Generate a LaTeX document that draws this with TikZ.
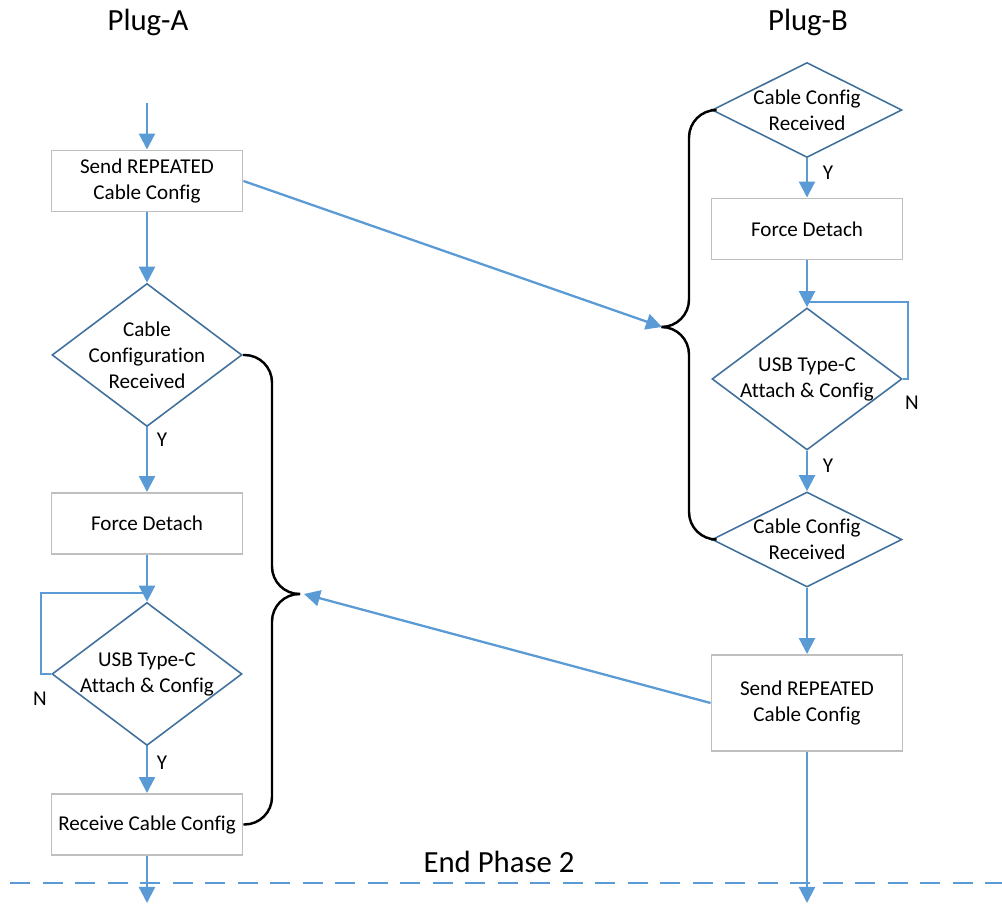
\documentclass[tikz,border=0pt]{standalone}
\usepackage{fontspec}
\setmainfont{Carlito}[Ligatures=NoCommon]
\usetikzlibrary{arrows.meta,shapes.geometric}
\definecolor{flowblue}{HTML}{5B9BD5}
\definecolor{edgeblue}{HTML}{41719C}
\definecolor{boxgray}{HTML}{BFBFBF}

\begin{document}
\begin{tikzpicture}[font=\fontsize{12}{14.8}\selectfont,>={Triangle[length=.32cm,width=.32cm]},
  proc/.style={draw=boxgray,line width=1.1pt,minimum width=3.82cm,minimum height=1.22cm,inner sep=0pt,align=center},
  dec/.style={diamond,draw=edgeblue,line width=.9pt,minimum width=3.8cm,inner sep=0pt},
  flow/.style={->,flowblue,line width=1.3pt},
  brace/.style={black,line width=1.4pt,rounded corners=.55cm},
  big/.style={font=\fontsize{17.5}{21}\selectfont}]
  \useasboundingbox (0,0) rectangle (20.04,18.08);
  \node[big] (plugA) at (2.96,17.64) {Plug-A};
  \node[big] (plugB) at (16.16,17.64) {Plug-B};

  % Plug-A column
  \coordinate (inA) at (2.94,16.02);
  \node[proc] (sendA) at (2.94,14.46) {Send REPEATED\\Cable Config};
  \node[dec,minimum height=2.86cm,label={[align=center]center:Cable\\Configuration\\Received}] (cfgA) at (2.94,10.98) {};
  \node[proc] (forceA) at (2.94,7.61) {Force Detach};
  \node[dec,minimum height=2.86cm,label={[align=center]center:USB Type-C\\Attach \& Config}] (attA) at (2.94,4.60) {};
  \node[proc] (recvA) at (2.94,1.59) {Receive Cable Config};
  \coordinate (outA) at (2.94,0.02);

  \draw[flow] (inA) -- (sendA);
  \draw[flow] (sendA) -- (cfgA.north);
  \draw[flow] (cfgA.south) -- (forceA);
  \draw[flow] (forceA) -- (attA.north);
  \draw[flowblue,line width=1.3pt] (attA.west) -- ++(-.2,0) |- (2.94,6.22);
  \draw[flow] (attA.south) -- (recvA);
  \draw[flow] (recvA) -- (outA);
  \node (yA1) at (3.24,9.28) {Y};
  \node (nA) at (0.80,4.10) {N};
  \node (yA2) at (3.24,2.82) {Y};

  % Plug-B column
  \node[dec,minimum height=1.9cm,label={[align=center]center:Cable Config\\Received}] (cfgB) at (16.14,15.88) {};
  \node[proc] (forceB) at (16.14,13.50) {Force Detach};
  \node[dec,minimum height=2.84cm,label={[align=center]center:USB Type-C\\Attach \& Config}] (attB) at (16.14,10.50) {};
  \node[dec,minimum height=1.9cm,label={[align=center]center:Cable Config\\Received}] (cfgB2) at (16.14,7.29) {};
  \node[proc,minimum height=1.92cm] (sendB) at (16.14,4.02) {Send REPEATED\\Cable Config};
  \coordinate (outB) at (16.14,0.02);

  \draw[flow] (cfgB.south) -- (forceB);
  \draw[flow] (forceB) -- (attB.north);
  \draw[flowblue,line width=1.3pt] (attB.east) -- ++(.1,0) |- (16.14,12.04);
  \draw[flow] (attB.south) -- (cfgB2.north);
  \draw[flow] (cfgB2.south) -- (sendB);
  \draw[flow] (sendB) -- (outB);
  \node (yB1) at (16.56,14.62) {Y};
  \node (nB) at (18.24,10.02) {N};
  \node (yB2) at (16.56,8.76) {Y};

  % braces and the messages between the plugs
  \coordinate (tipA) at (6.00,6.20);
  \coordinate (tipB) at (13.34,11.54);
  \draw[brace] (cfgA.east) -| (5.44,6.20) -- (tipA);
  \draw[brace] (tipA) -- (5.44,6.20) |- (recvA.east);
  \draw[brace] (cfgB.west) -| (13.78,11.54) -- (tipB);
  \draw[brace] (tipB) -- (13.78,11.54) |- (cfgB2.west);
  \coordinate (hitB) at (13.24,11.54);
  \coordinate (hitA) at (6.08,6.20);
  \draw[flow] (sendA.east) -- (hitB);
  \draw[flow] (sendB.west) -- (hitA);

  % end of phase
  \draw[flowblue,line width=1.3pt,dash pattern=on .4cm off .25cm] (0.2,0.42) -- (20.04,0.42);
  \node[big] (endPh) at (9.98,0.84) {End Phase 2};
\end{tikzpicture}
\end{document}
